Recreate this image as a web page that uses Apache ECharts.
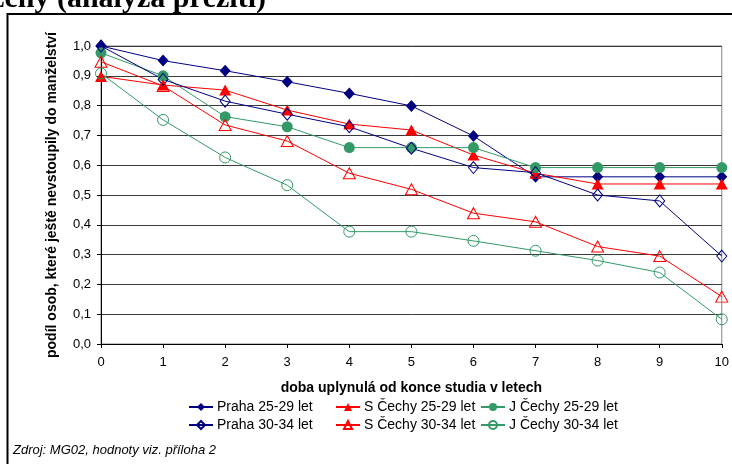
<!DOCTYPE html>
<html>
<head>
<meta charset="utf-8">
<script src="https://cdn.jsdelivr.net/npm/echarts@6/dist/echarts.min.js"></script>
<style>
  html, body { margin: 0; padding: 0; background: #fff; }
  #main { width: 732px; height: 464px; }
</style>
</head>
<body>
<div id="main"></div>
<script>
// doba od konce studia (roky)
var years = ['0', '1', '2', '3', '4', '5', '6', '7', '8', '9', '10'];
var yTicks = [0, 0.1, 0.2, 0.3, 0.4, 0.5, 0.6, 0.7, 0.8, 0.9, 1.0];

// podíl osob, které ještě nevstoupily do manželství
var praha2529 = [1.0, 0.951, 0.917, 0.880, 0.841, 0.799, 0.698, 0.561, 0.561, 0.561, 0.561];
var sCechy2529 = [0.898, 0.869, 0.852, 0.785, 0.738, 0.718, 0.634, 0.573, 0.537, 0.537, 0.537];
var jCechy2529 = [0.977, 0.900, 0.763, 0.729, 0.659, 0.659, 0.659, 0.592, 0.592, 0.592, 0.592];
var praha3034 = [1.0, 0.888, 0.815, 0.771, 0.729, 0.657, 0.592, 0.575, 0.500, 0.480, 0.295];
var sCechy3034 = [0.947, 0.866, 0.735, 0.681, 0.573, 0.519, 0.439, 0.410, 0.327, 0.295, 0.159];
var jCechy3034 = [0.908, 0.752, 0.626, 0.533, 0.377, 0.377, 0.346, 0.313, 0.280, 0.240, 0.083];

var NAVY = '#000080', RED = '#ff0000', GREEN = '#339966';
var FONT = '"Liberation Sans", Arial, sans-serif';

function makeSeries(name, data, color, symbol, size, filled) {
    return {
        name: name,
        type: 'line',
        data: data,
        symbol: symbol,
        symbolSize: size,
        showAllSymbol: true,
        lineStyle: { color: color, width: 1 },
        itemStyle: filled
            ? { color: color, borderColor: color, borderWidth: 0 }
            : { color: 'rgba(255,255,255,0)', borderColor: color, borderWidth: 1 },
        emphasis: { disabled: true },
        animation: false
    };
}

function makeLegend(names, left) {
    return {
        orient: 'vertical',
        left: left,
        top: 400,
        itemWidth: 24,
        itemHeight: 10,
        itemGap: 4,
        padding: 0,
        selectedMode: false,
        textStyle: { fontFamily: FONT, fontSize: 14, color: '#000', padding: [0, 0, 0, -1] },
        data: names
    };
}

var myChart = echarts.init(document.getElementById('main'));

var option = {
    backgroundColor: '#fff',
    animation: false,
    grid: {
        left: 101, right: 7, top: 46, bottom: 120,
        show: true, borderColor: '#808080', borderWidth: 1
    },
    legend: [
        makeLegend(['Praha 25-29 let', 'Praha 30-34 let'], 188),
        makeLegend(['S Čechy 25-29 let', 'S Čechy 30-34 let'], 335),
        makeLegend(['J Čechy 25-29 let', 'J Čechy 30-34 let'], 480)
    ],
    xAxis: {
        type: 'category',
        data: years,
        boundaryGap: false,
        name: 'doba uplynulá od konce studia v letech',
        nameLocation: 'middle',
        nameGap: 37,
        nameTextStyle: { fontFamily: FONT, fontSize: 14, fontWeight: 'bold', color: '#000' },
        axisLine: { lineStyle: { color: '#000', width: 1 } },
        axisTick: { show: true, inside: false, length: 4, alignWithLabel: true, lineStyle: { color: '#000' } },
        axisLabel: { fontFamily: FONT, fontSize: 13, color: '#000', margin: 12 },
        splitLine: { show: false }
    },
    yAxis: {
        type: 'value',
        min: 0,
        max: 1,
        interval: 0.1,
        name: 'podíl osob, které ještě nevstoupily do manželství',
        nameLocation: 'middle',
        nameGap: 42,
        nameTextStyle: { fontFamily: FONT, fontSize: 14, fontWeight: 'bold', color: '#000' },
        axisLine: { show: true, lineStyle: { color: '#000', width: 1 } },
        axisTick: { show: true, inside: false, length: 4, lineStyle: { color: '#000' } },
        axisLabel: {
            fontFamily: FONT, fontSize: 13, color: '#000', margin: 10,
            formatter: function (v) {
                var t = yTicks.reduce(function (a, b) { return Math.abs(b - v) < Math.abs(a - v) ? b : a; });
                return t.toFixed(1).replace('.', ',');
            }
        },
        splitLine: { show: true, lineStyle: { color: '#3a3a3a', width: 1 } }
    },
    graphic: [
        {
            type: 'rect',
            shape: { x: 7.5, y: 14, width: 800, height: 500 },
            style: { fill: 'none', stroke: '#000', lineWidth: 2 },
            silent: true
        },
        {
            type: 'text',
            x: 266, y: -1,
            style: {
                text: 'ženy (analýza přežití)',
                font: 'bold 30px "Liberation Serif", "Times New Roman", serif',
                fill: '#000',
                textAlign: 'right',
                textVerticalAlign: 'middle'
            },
            silent: true
        },
        {
            type: 'text',
            x: 13, y: 450,
            style: {
                text: 'Zdroj: MG02, hodnoty viz. příloha 2',
                font: 'italic 13px "Liberation Sans", Arial, sans-serif',
                fill: '#000',
                textAlign: 'left',
                textVerticalAlign: 'middle'
            },
            silent: true
        }
    ],
    series: [
        makeSeries('Praha 25-29 let', praha2529, NAVY, 'diamond', [11, 12], true),
        makeSeries('S Čechy 25-29 let', sCechy2529, RED, 'triangle', [12, 11], true),
        makeSeries('J Čechy 25-29 let', jCechy2529, GREEN, 'circle', 11, true),
        makeSeries('Praha 30-34 let', praha3034, NAVY, 'diamond', [10, 12], false),
        makeSeries('S Čechy 30-34 let', sCechy3034, RED, 'triangle', [12, 11], false),
        makeSeries('J Čechy 30-34 let', jCechy3034, GREEN, 'circle', 11, false)
    ]
};

myChart.setOption(option);
</script>
</body>
</html>
